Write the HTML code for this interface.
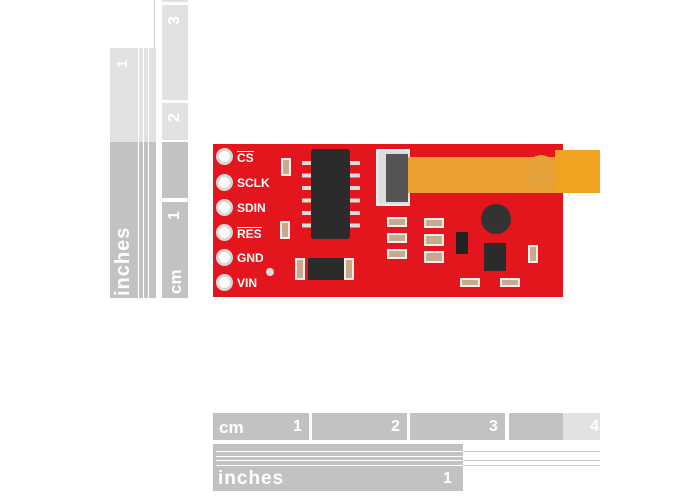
<!DOCTYPE html>
<html><head><style>
body{margin:0;width:700px;height:500px;background:#fff;position:relative;overflow:hidden;font-family:"Liberation Sans",sans-serif}
div{position:absolute;box-sizing:border-box}
.l{background:#e2e2e2}.d{background:#c2c2c2}
.t{color:#fff;font-weight:bold}
.pin{width:17px;height:17px;border-radius:50%;background:#fff;border:3px solid #d8d8d8;left:216px}
.lab{left:237px;color:#fff;font-weight:bold;font-size:12px;line-height:12px}
.pd{background:#d9d9d9;width:9px;height:5px}
.cap{background:#c9a98a;border:2px solid #eee;width:10px;height:18px}
.hc{background:#c9a98a;border:2px solid #eee;width:20px;height:10px}
</style></head><body>
<!-- left inches ruler -->
<div class="l" style="left:110px;top:48px;width:46px;height:94px"></div>
<div class="d" style="left:110px;top:142px;width:46px;height:156px"></div>
<div style="left:138px;top:0;width:1px;height:298px;background:#fff"></div>
<div style="left:143px;top:0;width:1px;height:298px;background:#fff"></div>
<div style="left:148px;top:0;width:1px;height:298px;background:#fff"></div>
<div style="left:154px;top:0;width:1px;height:48px;background:#ccc"></div>
<div class="t" style="left:114px;top:52px;font-size:15px;transform:rotate(-90deg);transform-origin:0 0;top:68px">1</div>
<div class="t" style="left:112px;top:296px;font-size:20px;transform:rotate(-90deg);transform-origin:0 0;letter-spacing:1px">inches</div>
<!-- left cm ruler -->
<div class="l" style="left:162px;top:0;width:26px;height:2px"></div>
<div class="l" style="left:162px;top:5px;width:26px;height:95px"></div>
<div class="l" style="left:162px;top:103px;width:26px;height:37px"></div>
<div class="d" style="left:162px;top:142px;width:26px;height:56px"></div>
<div class="d" style="left:162px;top:202px;width:26px;height:96px"></div>
<div class="t" style="left:166px;top:25px;font-size:16px;transform:rotate(-90deg);transform-origin:0 0">3</div>
<div class="t" style="left:166px;top:122px;font-size:16px;transform:rotate(-90deg);transform-origin:0 0">2</div>
<div class="t" style="left:166px;top:220px;font-size:16px;transform:rotate(-90deg);transform-origin:0 0">1</div>
<div class="t" style="left:166px;top:294px;font-size:17px;transform:rotate(-90deg);transform-origin:0 0">cm</div>
<!-- board -->
<div style="left:213px;top:144px;width:350px;height:153px;background:#e2161c"></div>
<div class="pin" style="top:148px"></div><div class="pin" style="top:174px"></div><div class="pin" style="top:199px"></div>
<div class="pin" style="top:224px"></div><div class="pin" style="top:249px"></div><div class="pin" style="top:274px"></div>
<div class="lab" style="top:151px;border-top:1px solid #fff;padding-top:0">CS</div>
<div class="lab" style="top:177px">SCLK</div>
<div class="lab" style="top:202px">SDIN</div>
<div class="lab" style="top:227px;border-top:1px solid #fff">RES</div>
<div class="lab" style="top:252px">GND</div>
<div class="lab" style="top:277px">VIN</div>
<div class="cap" style="left:281px;top:158px"></div>
<div class="cap" style="left:280px;top:221px"></div>
<!-- IC -->
<div style="left:301px;top:151px;width:60px;height:86px">
</div>
<div style="left:302px;top:155px;width:58px;height:80px;background:repeating-linear-gradient(#e2161c 0 6px,#ddd 6px 10px,#e2161c 10px 12.5px)"></div>
<div style="left:311px;top:149px;width:39px;height:90px;background:#2b2b2b;border-radius:3px"></div>
<!-- connector -->
<div style="left:376px;top:149px;width:34px;height:57px;background:#ddd;border:2px solid #eee"></div>
<div style="left:386px;top:154px;width:22px;height:48px;background:#555"></div>
<!-- ribbon -->
<div style="left:408px;top:157px;width:192px;height:36px;background:#e9a030"></div>
<div style="left:526px;top:155px;width:30px;height:34px;border-radius:50%;background:#e6a23a"></div>
<div style="left:555px;top:150px;width:45px;height:43px;background:#f0a320"></div>
<!-- passives -->
<div class="hc" style="left:387px;top:217px"></div><div class="hc" style="left:387px;top:233px"></div><div class="hc" style="left:387px;top:249px"></div>
<div class="hc" style="left:424px;top:218px"></div><div class="hc" style="left:424px;top:234px;height:12px"></div><div class="hc" style="left:424px;top:251px;height:12px"></div>
<div style="left:456px;top:232px;width:12px;height:22px;background:#222"></div>
<div style="left:481px;top:204px;width:30px;height:30px;border-radius:50%;background:#333"></div>
<div style="left:484px;top:243px;width:22px;height:28px;background:#2b2b2b"></div>
<div class="cap" style="left:528px;top:245px"></div>
<div class="hc" style="left:460px;top:278px;height:9px"></div>
<div class="hc" style="left:500px;top:278px;height:9px"></div>
<div style="left:308px;top:258px;width:38px;height:22px;background:#2b2b2b"></div>
<div class="cap" style="left:295px;top:258px;height:22px"></div>
<div class="cap" style="left:344px;top:258px;height:22px"></div>
<div style="left:266px;top:268px;width:8px;height:8px;border-radius:50%;background:#ddd"></div>
<!-- bottom cm ruler -->
<div class="d" style="left:213px;top:413px;width:96px;height:27px"></div>
<div class="d" style="left:312px;top:413px;width:95px;height:27px"></div>
<div class="d" style="left:410px;top:413px;width:95px;height:27px"></div>
<div class="d" style="left:509px;top:413px;width:54px;height:27px"></div>
<div class="l" style="left:563px;top:413px;width:37px;height:27px"></div>
<div class="t" style="left:219px;top:418px;font-size:17px">cm</div>
<div class="t" style="left:293px;top:418px;font-size:16px">1</div>
<div class="t" style="left:391px;top:418px;font-size:16px">2</div>
<div class="t" style="left:489px;top:418px;font-size:16px">3</div>
<div class="t" style="left:590px;top:418px;font-size:16px">4</div>
<!-- bottom inches ruler -->
<div class="d" style="left:213px;top:444px;width:250px;height:47px"></div>
<div style="left:216px;top:451px;width:384px;height:1px;background:#fff"></div>
<div style="left:216px;top:456px;width:384px;height:1px;background:#fff"></div>
<div style="left:216px;top:460px;width:384px;height:1px;background:#fff"></div>
<div style="left:216px;top:465px;width:384px;height:1px;background:#fff"></div>
<div style="left:463px;top:451px;width:137px;height:15px;border-top:1px solid #ccc;border-bottom:1px solid #ccc"></div>
<div style="left:463px;top:460px;width:137px;height:1px;background:#ccc"></div>
<div class="t" style="left:218px;top:468px;font-size:19px;letter-spacing:1px">inches</div>
<div class="t" style="left:443px;top:470px;font-size:16px">1</div>
</body></html>
